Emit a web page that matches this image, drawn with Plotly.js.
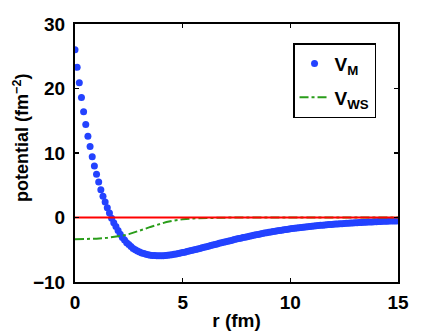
<!DOCTYPE html>
<html>
<head>
<meta charset="utf-8">
<script src="https://cdn.plot.ly/plotly-3.0.1.min.js"></script>
<style>
  body { margin: 0; background: #fff; }
  #myDiv { width: 440px; height: 331px; }
</style>
</head>
<body>
<div id="myDiv"></div>
<script>
// r grid (fm) of the V_M points
var rM = [
  0.0, 0.1, 0.2, 0.3, 0.4, 0.5, 0.6, 0.7, 0.8, 0.9,
  1.0, 1.1, 1.2, 1.3, 1.4, 1.5, 1.6, 1.7, 1.8, 1.9,
  2.0, 2.1, 2.2, 2.3, 2.4, 2.5, 2.6, 2.7, 2.8, 2.9,
  3.0, 3.1, 3.2, 3.3, 3.4, 3.5, 3.6, 3.7, 3.8, 3.9,
  4.0, 4.1, 4.2, 4.3, 4.4, 4.5, 4.6, 4.7, 4.8, 4.9,
  5.0, 5.1, 5.2, 5.3, 5.4, 5.5, 5.6, 5.7, 5.8, 5.9,
  6.0, 6.1, 6.2, 6.3, 6.4, 6.5, 6.6, 6.7, 6.8, 6.9,
  7.0, 7.1, 7.2, 7.3, 7.4, 7.5, 7.6, 7.7, 7.8, 7.9,
  8.0, 8.1, 8.2, 8.3, 8.4, 8.5, 8.6, 8.7, 8.8, 8.9,
  9.0, 9.1, 9.2, 9.3, 9.4, 9.5, 9.6, 9.7, 9.8, 9.9,
  10.0, 10.1, 10.2, 10.3, 10.4, 10.5, 10.6, 10.7, 10.8, 10.9,
  11.0, 11.1, 11.2, 11.3, 11.4, 11.5, 11.6, 11.7, 11.8, 11.9,
  12.0, 12.1, 12.2, 12.3, 12.4, 12.5, 12.6, 12.7, 12.8, 12.9,
  13.0, 13.1, 13.2, 13.3, 13.4, 13.5, 13.6, 13.7, 13.8, 13.9,
  14.0, 14.1, 14.2, 14.3, 14.4, 14.5, 14.6, 14.7, 14.8, 14.9,
  15.0
];
// V_M (fm^-2)
var vM = [
  26.0, 23.3, 20.9, 18.6, 16.4, 14.4, 12.6, 11.0, 9.4, 8.0,
  6.7, 5.5, 4.3, 3.3, 2.4, 1.5, 0.7, -0.1, -0.8, -1.4,
  -2.0, -2.6, -3.1, -3.5, -3.9, -4.2, -4.5, -4.8, -5.0, -5.2,
  -5.35, -5.5, -5.6, -5.7, -5.78, -5.84, -5.88, -5.91, -5.93, -5.94,
  -5.94, -5.92, -5.9, -5.86, -5.82, -5.77, -5.71, -5.65, -5.58, -5.51,
  -5.44, -5.37, -5.29, -5.21, -5.13, -5.05, -4.96, -4.88, -4.79, -4.7,
  -4.62, -4.53, -4.44, -4.35, -4.26, -4.17, -4.09, -4.0, -3.92, -3.84,
  -3.75, -3.67, -3.59, -3.51, -3.43, -3.35, -3.27, -3.2, -3.12, -3.05,
  -2.97, -2.9, -2.83, -2.76, -2.69, -2.62, -2.55, -2.49, -2.42, -2.36,
  -2.3, -2.24, -2.18, -2.12, -2.07, -2.01, -1.96, -1.91, -1.86, -1.81,
  -1.76, -1.71, -1.67, -1.63, -1.58, -1.54, -1.5, -1.46, -1.43, -1.39,
  -1.35, -1.32, -1.29, -1.25, -1.22, -1.19, -1.16, -1.13, -1.1, -1.08,
  -1.05, -1.02, -1.0, -0.97, -0.95, -0.93, -0.9, -0.88, -0.86, -0.84,
  -0.82, -0.8, -0.78, -0.76, -0.74, -0.73, -0.71, -0.69, -0.68, -0.66,
  -0.65, -0.63, -0.62, -0.6, -0.59, -0.58, -0.56, -0.55, -0.54, -0.53,
  -0.52
];
// Woods-Saxon curve
var rWS = [0, 0.5, 1.0, 1.5, 2.0, 2.25, 2.5, 2.75, 3.0, 3.25, 3.5, 3.75, 4.0, 4.25, 4.5, 4.75, 5.0, 5.5, 6.0, 6.5, 7.0, 8.0, 10.0, 12.0, 15.0];
var vWS = [-3.37, -3.34, -3.28, -3.16, -2.94, -2.78, -2.58, -2.34, -2.06, -1.76, -1.46, -1.17, -0.91, -0.7, -0.52, -0.38, -0.28, -0.14, -0.07, -0.03, -0.02, 0, 0, 0, 0];
// zero line
var rZero = [0, 15];
var vZero = [0, 0];

var xTicks = [0, 5, 10, 15];
var yTicks = [-10, 0, 10, 20, 30];

var fnt = {family: 'Liberation Sans, Arial, sans-serif', size: 19, color: '#000', weight: 'bold'};

var trace0 = {
    x: rM, y: vM,
    name: 'V<sub>M</sub>',
    legendgroup: 'm',
    mode: 'markers',
    type: 'scatter',
    marker: {color: '#2342ff', size: 7}
};
var trace1 = {
    x: rWS, y: vWS,
    name: 'V<sub>WS</sub>',
    legendgroup: 'ws',
    mode: 'lines',
    type: 'scatter',
    line: {color: '#2a9d1a', width: 2, dash: 'dashdot'}
};
var trace2 = {
    x: rZero, y: vZero,
    mode: 'lines',
    type: 'scatter',
    showlegend: false,
    line: {color: '#ff0000', width: 2}
};

var axisBase = {
    showline: true, mirror: 'ticks', linecolor: '#000', linewidth: 2,
    ticks: 'inside', ticklen: 4, tickwidth: 1.5, tickcolor: '#000',
    showgrid: false, zeroline: false,
    tickfont: fnt
};

var layout = {
    width: 440, height: 331,
    margin: {l: 75, r: 42, t: 24, b: 49},
    paper_bgcolor: '#fff', plot_bgcolor: '#fff',
    showlegend: true,
    legend: {
        x: 0.675, y: 0.926, xanchor: 'left', yanchor: 'top',
        traceorder: 'grouped', tracegroupgap: 6,
        bgcolor: '#fff', bordercolor: '#000', borderwidth: 1.5,
        font: {family: 'Liberation Sans, Arial, sans-serif', size: 19, color: '#000', weight: 'bold'}
    },
    xaxis: Object.assign({}, axisBase, {
        range: [0, 15], tickvals: xTicks, ticklabelstandoff: 2,
        title: {text: 'r (fm)', font: fnt, standoff: 4}
    }),
    yaxis: Object.assign({}, axisBase, {
        range: [-10, 30], tickvals: yTicks, ticklabelstandoff: 4
    }),
    // y title placed as an annotation so it can sit a little above the axis middle
    annotations: [{
        text: 'potential (fm<sup>\u22122</sup>)',
        xref: 'paper', yref: 'paper',
        x: -0.166, y: 0.56, xanchor: 'center', yanchor: 'middle',
        textangle: -90, showarrow: false,
        font: {family: 'Liberation Sans, Arial, sans-serif', size: 18, color: '#000', weight: 'bold'}
    }]
};

Plotly.newPlot('myDiv', [trace0, trace1, trace2], layout, {staticPlot: true});
</script>
</body>
</html>
